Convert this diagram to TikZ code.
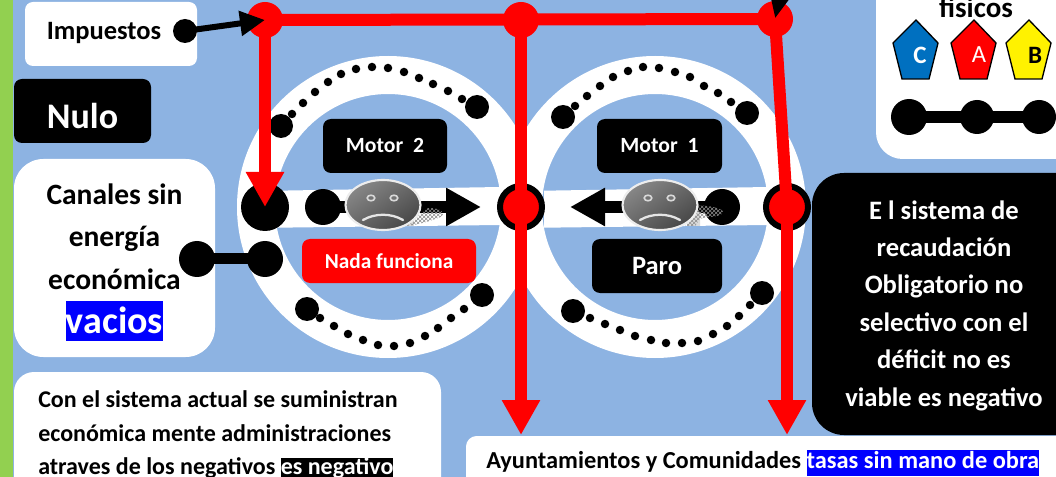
\documentclass[tikz,border=0pt]{standalone}
\usepackage{fontspec}
\setmainfont{Carlito}
\usetikzlibrary{arrows.meta,patterns,shapes.geometric}
\definecolor{bgblue}{HTML}{8DB3E2}
\definecolor{stripgreen}{HTML}{92D050}
\definecolor{penblue}{HTML}{0070C0}
\newcommand{\fs}[2]{\fontsize{\dimexpr#1pt*3/4\relax}{\dimexpr#2pt*3/4\relax}\selectfont\bfseries}
\setlength{\fboxsep}{0pt}
\tikzset{
  whitebox/.style={fill=white,rounded corners=#1},
  blackbox/.style={fill=black,rounded corners=#1},
  boldtext/.style={inner sep=0pt,align=center},
  bigdot/.style={circle,fill=black,inner sep=0pt,minimum size=#1*0.75pt},
  smalldot/.style={circle,fill=black,inner sep=0pt,minimum size=8.5*0.75pt},
  redline/.style={draw=red,line width=12*0.75pt},
  redarrow/.style={redline,-{Triangle[length=35*0.75pt,width=36*0.75pt]}},
  blackarrow/.style={draw=black,line width=12*0.75pt,-{Triangle[length=35*0.75pt,width=36*0.75pt]}},
  blackline/.style={draw=black,line width=11*0.75pt},
  reddot/.style={circle,fill=red,inner sep=0pt,minimum size=36*0.75pt},
  ringdot/.style={circle,fill=red,draw=black,line width=6*0.75pt,inner sep=0pt,minimum size=42*0.75pt},
  penta/.style={draw=black,line width=1pt,line join=miter},
  facebody/.style={ellipse,draw=black!7,line width=1.6pt,inner sep=0pt,minimum width=75*0.75pt,minimum height=50*0.75pt,
     left color=black!47,right color=black!72,shading angle=35},
  hatchshadow/.style={pattern=crosshatch,pattern color=black!45},
}
\newcommand{\sadface}[3]{% x, y, name
  \node[facebody] (#3) at (#1,#2) {};
  \draw[white!85!black,line width=1.2pt,fill=black!55] (#1-12,#2-7) ellipse (3.8 and 2.8);
  \draw[white!85!black,line width=1.2pt,fill=black!55] (#1+11,#2-7) ellipse (3.8 and 2.8);
  \draw[white!90!black,line width=1.7pt,line cap=round] (#1-20,#2+15) .. controls (#1-8,#2+8) and (#1+8,#2+8) .. (#1+20,#2+15);
}
\begin{document}
\begin{tikzpicture}[x=0.75pt,y=-0.75pt]
\useasboundingbox (0,0) rectangle (1056,477);
\clip (0,0) rectangle (1056,477);
\fill[bgblue] (0,0) rectangle (1056,477);
\fill[stripgreen] (0,0) rectangle (13,477);

% boxes
\fill[whitebox=6pt] (25,2) rectangle (197,66);
\fill[blackbox=6pt] (14,79) rectangle (151,143);
\fill[whitebox=22pt] (14,159) rectangle (215,357);
\fill[whitebox=15pt] (14,372) rectangle (441,500);
\fill[whitebox=8pt] (466,436) rectangle (1080,500);
\fill[whitebox=20pt] (876,-30) rectangle (1080,159);

% rings
\fill[white,even odd rule] (388,207) circle (151) (388,207) circle (113);
\fill[white,even odd rule] (655,207) circle (151) (655,207) circle (113);
\fill[white] (276,190.7) -- (500,187) -- (500,225) -- (276,227.7) -- cycle;
\fill[white] (544,190.7) -- (768,187) -- (768,225) -- (544,227.7) -- cycle;

% black info box on the right
\fill[blackbox=24pt] (812,173) rectangle (1090,435);

% inner boxes
\node[fill=black,rounded corners=6pt,minimum width=124*0.75pt,minimum height=54*0.75pt,inner sep=0pt,text=white] (motordos) at (385,146) {\raisebox{1.5pt}{\fs{21.7}{24}Motor\ \ 2}};
\node[fill=black,rounded corners=6pt,minimum width=125*0.75pt,minimum height=54*0.75pt,inner sep=0pt,text=white] (motoruno) at (659.5,146) {\raisebox{1.5pt}{\fs{21.7}{24}Motor\ \ 1}};
\node[fill=black,rounded corners=6pt,minimum width=130*0.75pt,minimum height=54*0.75pt,inner sep=0pt,text=white] (paro) at (657,266) {\raisebox{-2.2pt}{\fs{26.5}{30}Paro}};
\node[fill=red,rounded corners=6pt,minimum width=174*0.75pt,minimum height=44*0.75pt,inner sep=0pt,text=white] (nada) at (389,261) {\raisebox{-1.5pt}{\fs{21.3}{24}Nada funciona}};

% texts
\node[boldtext,font=\fs{26.5}{30}] (timp) at (104,33) {Impuestos};
\node[boldtext,text=white,font=\fs{36}{40}] (tnulo) at (82.5,116) {Nulo};
\node[boldtext,font=\fs{29.5}{42.5}] (tcan) at (114.5,236.5) {Canales sin\\ energía\\ económica};
\node[fill=blue,text=white,inner sep=0pt,minimum width=97*0.75pt,minimum height=40*0.75pt] (tvac) at (114.5,320.5) {\raisebox{-3pt}{\fs{38}{40}vacios}};
\node[boldtext,anchor=west,align=left,font=\fs{24}{33.5}] (tcon) at (38,435) {Con el sistema actual se suministran\\ económica mente administraciones\\ atraves de los negativos \colorbox{black}{\textcolor{white}{es negativo}}};
\node[boldtext,text=white,font=\fs{26.6}{37.4}] (tsis) at (944,305.5) {E l sistema de\\ recaudación\\ Obligatorio no\\ selectivo con el\\ déficit no es\\ viable es negativo};
\node[boldtext,anchor=west,font=\fs{24.4}{26}] (tayu) at (486,463) {Ayuntamientos y Comunidades \colorbox{blue}{\textcolor{white}{\strut tasas sin mano de obra}}};
\node[boldtext,font=\fs{29}{30}] (tfis) at (976,7) {físicos};

% pentagons
\draw[penta,fill=penblue] (916,20) -- (938,43) -- (929,79) -- (902,79) -- (893,43) -- cycle;
\draw[penta,fill=red] (974,20) -- (996,43) -- (987,79) -- (960,79) -- (951,43) -- cycle;
\draw[penta,fill=yellow] (1029,20) -- (1051,43) -- (1042,79) -- (1015,79) -- (1006,43) -- cycle;
\node[boldtext,text=white] (lc) at (920,55) {\fs{25}{28}C};
\node[boldtext,text=white] (la) at (979,55) {\fontsize{18.5pt}{21pt}\selectfont A};
\node[boldtext] (lb) at (1035,55) {\fs{25}{28}B};

% three linked dots
\node[bigdot=36] (fc) at (909,117) {};
\node[bigdot=34] (fa) at (977,117) {};
\node[bigdot=34] (fb) at (1039,117) {};
\draw[blackline,line width=12*0.75pt] (fc.center) -- (fa.center);
\draw[blackline,line width=12*0.75pt] (fa.center) -- (fb.center);

% canales link
\node[bigdot=36] (cana) at (197,259) {};
\node[bigdot=36] (canb) at (265,259) {};
\draw[blackline] (cana.center) -- (canb.center);

% ring dots
\foreach \i/\x/\y in {1/292/114,2/303/103,3/315/92,4/328/82,5/341/74,6/356/69,7/372/67,8/388/68,9/404/72,10/419/78,11/433/84,12/448/91,13/462/99,
  14/320/318,15/334/326,16/348/334,17/363/340,18/378/345,19/394/346,20/410/343,21/425/336,22/438/328,23/451/318,24/464/309,
  25/575/106,26/587/96,27/600/86,28/613/77,29/628/71,30/643/67,31/659/68,32/675/72,33/690/77,34/704/86,35/718/93,36/731/102,
  37/590/318,38/605/324,39/620/330,40/635/336,41/651/340,42/666/343,43/682/343,44/698/341,45/713/334,46/727/326,47/739/316,48/750/305}
  \node[smalldot] (d\i) at (\x,\y) {};
\foreach \i/\x/\y in {1/281/126,2/477/107,3/307/309,4/482/295,5/563/117,6/747/113,7/573/311,8/762/293}
  \node[bigdot=24] (b\i) at (\x,\y) {};

% large stations
\node[bigdot=48] (stl) at (265,207) {};
\node[ringdot] (stm) at (521,207) {};
\node[ringdot] (str) at (787,207) {};
\node[reddot] (ra) at (265,20) {};
\node[reddot] (rb) at (521,20) {};
\node[reddot] (rc) at (775,19) {};
\coordinate (tipb) at (521,435);
\coordinate (tipc) at (787,435);
\coordinate (tipa) at (265,207);

% red connectors
\draw[redline] (ra.center) -- (rc.center);
\draw[redarrow] (ra.center) -- (tipa);
\draw[redarrow] (rb.center) -- (tipb);
\draw[redline] (rc.center) -- (str.center);
\draw[redarrow] (str.center) -- (tipc);

% impuestos
\node[bigdot=24] (imp) at (185,31) {};
\draw[draw=black,line width=6*0.75pt,-{Triangle[length=25*0.75pt,width=24*0.75pt]}] (imp.center) -- (ra.center);
\coordinate (blk) at (783,-18);
\draw[draw=black,line width=12*0.75pt,-{Triangle[length=35*0.75pt,width=28*0.75pt]}] (blk) -- (rc.center);

% motor 2 flow
\node[bigdot=36] (mda) at (323,207) {};
\coordinate (mdt) at (481,207);
\draw[blackarrow] (mda.center) -- (mdt);
\fill[white] (392,213.5) rectangle (446,225);
\fill[black!14] (398,213.5) -- (414,213.5) -- (414,226) -- (398,226) -- cycle;
\fill[hatchshadow] (405,226) -- (428,208) .. controls (445,208) and (448,216) .. (435,219) .. controls (425,223) and (410,226) .. (405,226) -- cycle;
\sadface{383}{205}{facedos}

% motor 1 flow
\node[bigdot=36] (mua) at (722,207) {};
\coordinate (mut) at (570,207);
\draw[blackarrow] (mua.center) -- (mut);
\fill[black!14] (690,212) -- (700,212) -- (700,226) -- (688,226) -- cycle;
\fill[hatchshadow] (688,206) .. controls (705,204) and (725,208) .. (723,213) .. controls (718,218) and (706,216) .. (700,219) -- (695,226) -- (685,226) -- cycle;
\sadface{660}{205}{faceuno}
\end{tikzpicture}
\end{document}
